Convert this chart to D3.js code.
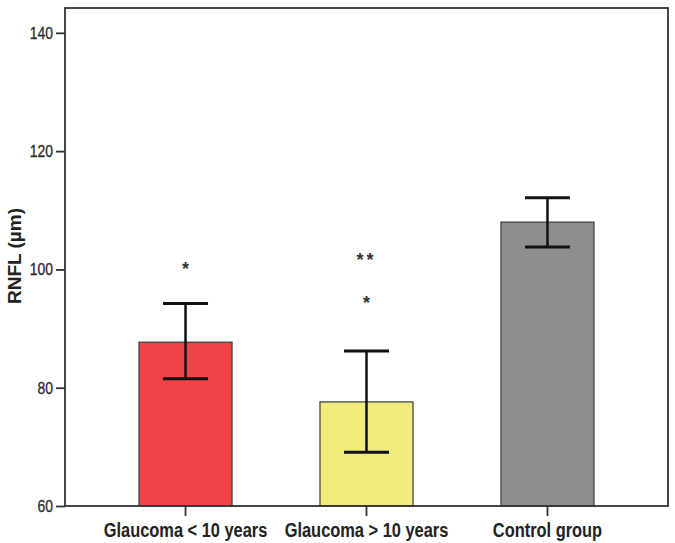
<!DOCTYPE html>
<html><head><meta charset="utf-8">
<script src="https://cdn.jsdelivr.net/npm/d3@7"></script>
<style>
body{margin:0;background:#fff;}
svg{display:block;}
</style></head>
<body>
<svg id="chart" width="675" height="543"></svg>
<script>
const categories = ["Glaucoma < 10 years", "Glaucoma > 10 years", "Control group"];
const means = [87.7, 77.6, 108.0];
const errLow = [81.5, 69.1, 103.8];
const errHigh = [94.25, 86.2, 112.1];
const colors = ["#EF4347", "#F0EB7C", "#8D8F8F"];
const yTicks = [60, 80, 100, 120, 140];
const annotations = [
  {cat: 0, value: 100.6, text: "*"},
  {cat: 1, value: 102.1, text: "**"},
  {cat: 1, value: 94.8, text: "*"}
];
const yTitle = "RNFL (µm)";

const svg = d3.select("#chart");
const mLeft = 65, mRight = 668, mTop = 8, mBottom = 506;

const y = d3.scaleLinear().domain([60, 144.2]).range([mBottom, mTop]);
const x = d3.scaleBand().domain(categories).range([mLeft, mRight]).paddingInner(0.486).paddingOuter(0.409);

const sans = "'Liberation Sans',Arial,sans-serif";
function narrowify(sel, f) {
  sel.each(function(){
    const w = this.getComputedTextLength();
    d3.select(this).attr("textLength", w * f).attr("lengthAdjust", "spacingAndGlyphs");
  });
}

// bars
svg.selectAll("rect.bar").data(categories).enter().append("rect")
  .attr("class","bar")
  .attr("x", d => x(d))
  .attr("width", x.bandwidth())
  .attr("y", (d,i) => y(means[i]))
  .attr("height", (d,i) => y(60) - y(means[i]))
  .attr("fill", (d,i) => colors[i])
  .attr("stroke", "#3a3a3a")
  .attr("stroke-width", 1.2);

// error bars
const capW = 45;
const eb = svg.selectAll("g.eb").data(categories).enter().append("g").attr("class","eb");
eb.append("line")
  .attr("x1", d => x(d) + x.bandwidth()/2).attr("x2", d => x(d) + x.bandwidth()/2)
  .attr("y1", (d,i) => y(errLow[i])).attr("y2", (d,i) => y(errHigh[i]))
  .attr("stroke", "#111").attr("stroke-width", 2.5);
eb.append("line")
  .attr("x1", d => x(d) + x.bandwidth()/2 - capW/2).attr("x2", d => x(d) + x.bandwidth()/2 + capW/2)
  .attr("y1", (d,i) => y(errHigh[i])).attr("y2", (d,i) => y(errHigh[i]))
  .attr("stroke", "#111").attr("stroke-width", 3);
eb.append("line")
  .attr("x1", d => x(d) + x.bandwidth()/2 - capW/2).attr("x2", d => x(d) + x.bandwidth()/2 + capW/2)
  .attr("y1", (d,i) => y(errLow[i])).attr("y2", (d,i) => y(errLow[i]))
  .attr("stroke", "#111").attr("stroke-width", 3);

// annotations
svg.selectAll("text.ann").data(annotations).enter().append("text")
  .attr("class","ann")
  .attr("x", d => x(categories[d.cat]) + x.bandwidth()/2)
  .attr("y", d => y(d.value) + 9)
  .attr("text-anchor","middle")
  .attr("font-family", sans)
  .attr("font-weight","bold")
  .attr("font-size", 18)
  .attr("letter-spacing", d => d.text.length > 1 ? 3 : 0)
  .attr("fill","#333")
  .text(d => d.text);

// frame
svg.append("rect")
  .attr("x", mLeft).attr("y", mTop)
  .attr("width", mRight-mLeft).attr("height", mBottom-mTop)
  .attr("fill","none").attr("stroke","#333").attr("stroke-width",1.8);

// y axis
const yAxis = svg.append("g").attr("transform", `translate(${mLeft},0)`)
  .call(d3.axisLeft(y).tickValues(yTicks).tickSize(9).tickPadding(3));
yAxis.select(".domain").remove();
yAxis.selectAll(".tick line").attr("stroke","#333").attr("stroke-width",1.8);
yAxis.selectAll(".tick text")
  .attr("font-family", sans).attr("font-size", 17).attr("fill","#2a2a2a")
  .attr("stroke","#2a2a2a").attr("stroke-width",0.3)
  .call(narrowify, 0.82);

// x axis
const xAxis = svg.append("g").attr("transform", `translate(0,${mBottom})`)
  .call(d3.axisBottom(x).tickSize(10).tickPadding(7));
xAxis.select(".domain").remove();
xAxis.selectAll(".tick line").attr("stroke","#333").attr("stroke-width",1.8);
xAxis.selectAll(".tick text")
  .attr("font-family", sans).attr("font-weight","bold").attr("font-size", 20).attr("fill","#222")
  .call(narrowify, 0.82);

// y title
svg.append("text")
  .attr("transform", `translate(21,256) rotate(-90)`)
  .attr("text-anchor","middle")
  .attr("font-family", sans)
  .attr("font-weight","bold")
  .attr("font-size", 19)
  .attr("fill","#222")
  .text(yTitle);
</script>
</body></html>
